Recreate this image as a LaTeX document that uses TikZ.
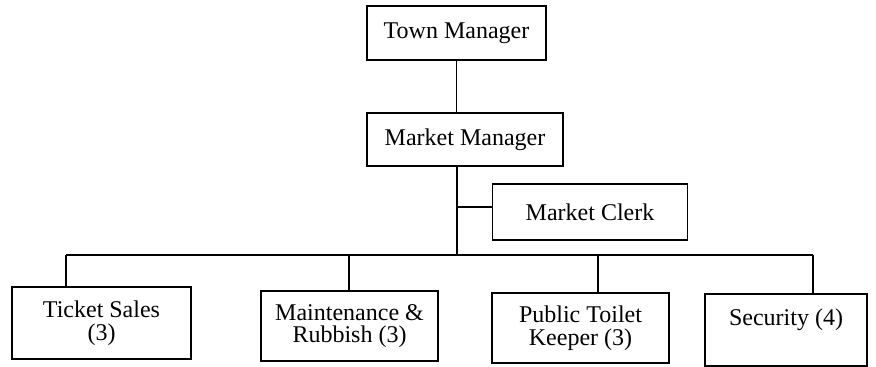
\documentclass[tikz,border=0pt]{standalone}
\usepackage{fontspec}
\setmainfont{Liberation Serif}
\usepackage{tikz}

\begin{document}
\begin{tikzpicture}[x=0.5pt,y=-0.5pt,line width=0.85pt,
  box/.style={draw,rectangle,align=center,inner sep=0pt,font=\fontsize{12}{11.3}\selectfont}]
  \useasboundingbox (0,0) rectangle (876,367);
  \node[box,minimum width=89.5pt,minimum height=27pt] (town) at (456.5,33) {Town Manager};
  \node[box,minimum width=98pt,minimum height=26.5pt] (mmgr) at (465,139.5) {Market Manager};
  \node[box,minimum width=97.5pt,minimum height=28pt] (clerk) at (590,212) {Market Clerk};
  \node[box,minimum width=89.5pt,minimum height=36pt] (tix) at (101.5,323) {Ticket Sales\\(3)};
  \node[box,minimum width=88.5pt,minimum height=35pt] (maint) at (349.5,326) {Maintenance \&\\Rubbish (3)};
  \node[box,minimum width=88.5pt,minimum height=35pt] (toilet) at (580.5,328) {Public Toilet\\Keeper (3)};
  \node[box,minimum width=81pt,minimum height=36pt,text depth=13pt] (sec) at (786,330) {Security (4)};
  \coordinate (clerkj) at (457,207);
  \coordinate (busmid) at (457,255);
  \coordinate (busl) at (66,255);
  \coordinate (busr) at (813,255);
  \coordinate (maintj) at (349,255);
  \coordinate (toiletj) at (598,255);
  \draw (town.south) -- (town.south |- mmgr.north);
  \draw (busmid |- mmgr.south) -- (busmid);
  \draw (clerkj) -- (clerkj -| clerk.west);
  \draw (busl) -- (busr);
  \draw (busl) -- (busl |- tix.north);
  \draw (maintj) -- (maintj |- maint.north);
  \draw (toiletj) -- (toiletj |- toilet.north);
  \draw (busr) -- (busr |- sec.north);
\end{tikzpicture}
\end{document}
